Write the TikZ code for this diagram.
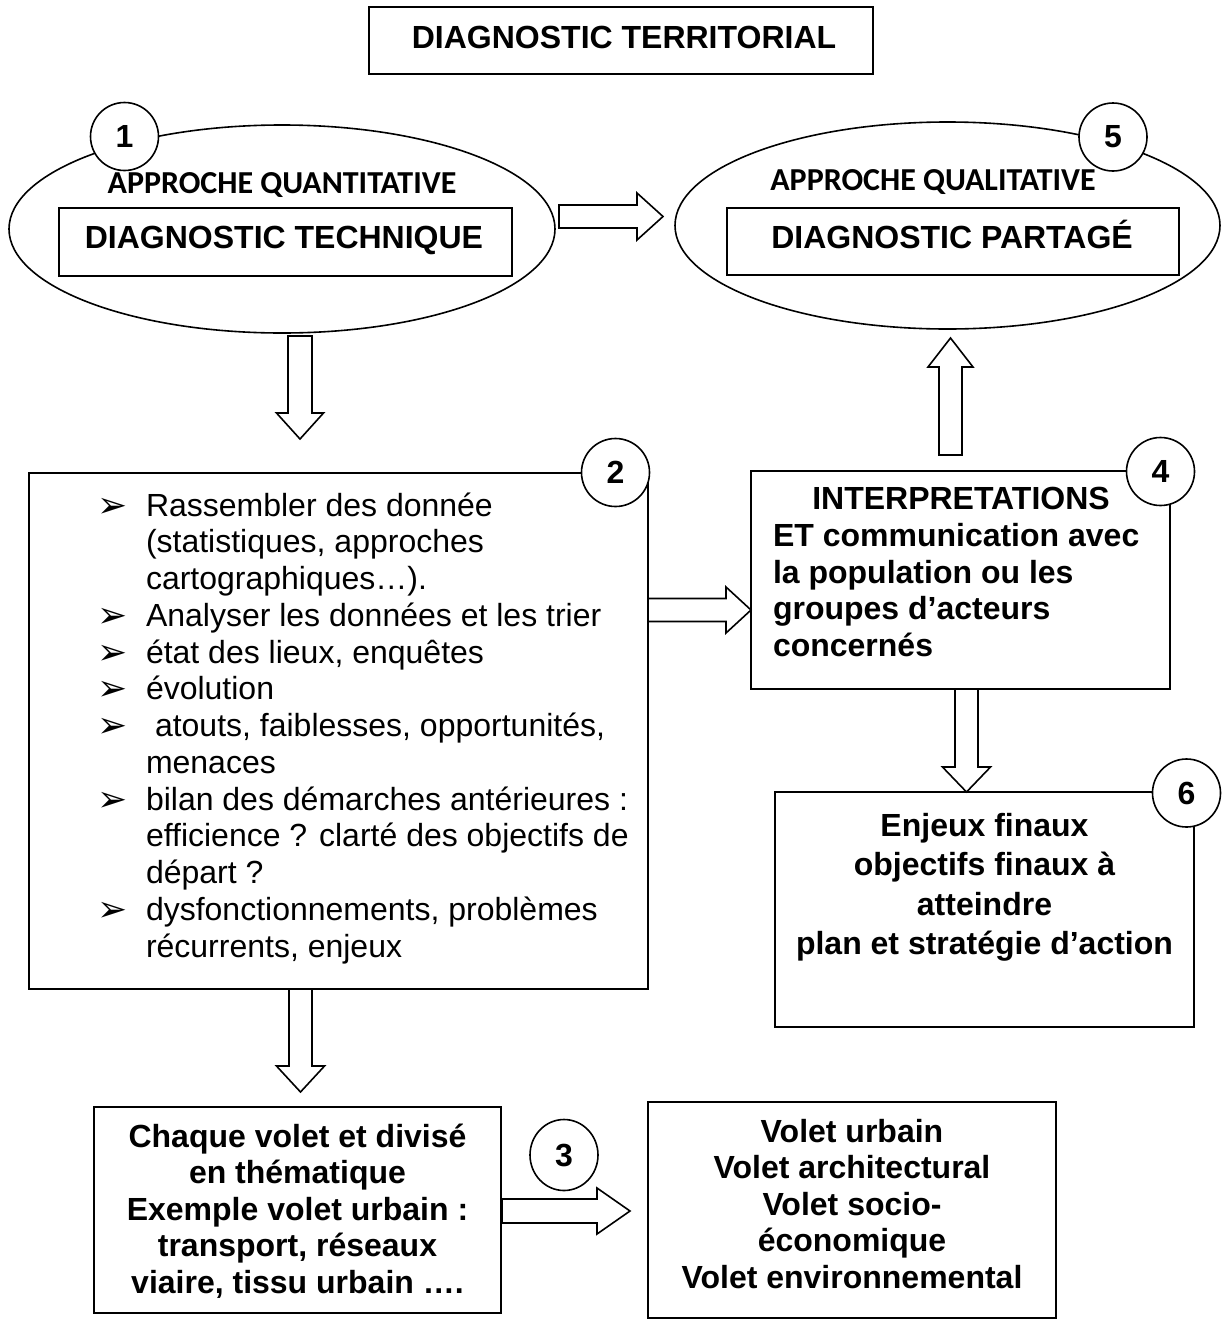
\documentclass[tikz,border=0pt]{standalone}
\usepackage{fontspec}
\setmainfont{Liberation Sans}
\newfontfamily\calfont{Carlito}
\newfontfamily\dingfont{DejaVu Sans}
\usetikzlibrary{shapes.geometric,calc}

% hollow block arrow: #1 tail, #2 tip, #3 half shaft width, #4 half head width, #5 head length
\newcommand\fatarrow[5]{%
  \coordinate (fa-b) at ($(#2)!#5!(#1)$);
  \draw[line, fill=white, line join=miter]
    ($(#1)!#3!90:(#2)$) -- ($(fa-b)!#3!90:(#2)$) -- ($(fa-b)!#4!90:(#2)$) -- (#2)
    -- ($(fa-b)!#4!-90:(#2)$) -- ($(fa-b)!#3!-90:(#2)$) -- ($(#1)!#3!-90:(#2)$) -- cycle;
}

\tikzset{
  every node/.style={inner sep=0pt, outer sep=0pt},
  line/.style={line width=1.6pt, draw=black},
  frame/.style={line, rectangle, fill=white},
  oval/.style={line, ellipse, fill=white},
  badge/.style={line, circle, fill=white, minimum size=68pt,
    font=\fontsize{32}{36}\selectfont\bfseries},
  big/.style={font=\fontsize{32}{36}\selectfont\bfseries},
  plain/.style={font=\fontsize{32}{36}\selectfont},
  capt/.style={font=\calfont\fontsize{32}{36}\selectfont\bfseries},
  bul/.style={font=\dingfont\fontsize{36}{40}\selectfont},
}

\begin{document}
\begin{tikzpicture}[x=1pt, y=-1pt]
\useasboundingbox (0,0) rectangle (1222,1320);

% ---------- title ----------
\node[frame, minimum width=504pt, minimum height=67pt] (title) at (621,40.5) {};
\node[big, anchor=base] (ttl) at (624,48) {DIAGNOSTIC TERRITORIAL};

% ---------- step 1 : technical diagnosis ----------
\node[oval, minimum width=546pt, minimum height=208pt] (e1) at (282,229) {};
\node[capt, anchor=base] (q1) at (282,193) {APPROCHE QUANTITATIVE};
\node[frame, minimum width=453pt, minimum height=68pt] (b1) at (285.5,242) {};
\node[big, anchor=base] (t1) at (284,248) {DIAGNOSTIC TECHNIQUE};
\node[badge] (c1) at (124.5,136.5) {1};

% ---------- step 5 : shared diagnosis ----------
\node[oval, minimum width=545pt, minimum height=207pt] (e5) at (947.5,225.5) {};
\node[capt, anchor=base] (q5) at (933,190) {APPROCHE QUALITATIVE};
\node[frame, minimum width=452pt, minimum height=67pt] (b5) at (953,241.5) {};
\node[big, anchor=base] (t5) at (952,248) {DIAGNOSTIC PARTAGÉ};
\node[badge] (c5) at (1113,137) {5};

% ---------- step 2 : data collection ----------
\node[frame, minimum width=619pt, minimum height=516pt] (box2) at (338.5,731) {};
\node[badge] (c2) at (615.5,472.5) {2};

\node[bul, anchor=base west] (m0) at (97,517) {➢};
\node[plain, anchor=base west] (l0) at (146,516) {Rassembler des donnée};
\node[plain, anchor=base west] (l1) at (146,552.75) {(statistiques, approches};
\node[plain, anchor=base west] (l2) at (146,589.5) {cartographiques…).};
\node[bul, anchor=base west] (m3) at (97,627.25) {➢};
\node[plain, anchor=base west] (l3) at (146,626.25) {Analyser les données et les trier};
\node[bul, anchor=base west] (m4) at (97,664) {➢};
\node[plain, anchor=base west] (l4) at (146,663) {état des lieux, enquêtes};
\node[bul, anchor=base west] (m5) at (97,700.75) {➢};
\node[plain, anchor=base west] (l5) at (146,699.75) {évolution};
\node[bul, anchor=base west] (m6) at (97,737.5) {➢};
\node[plain, anchor=base west] (l6) at (155,736.5) {atouts, faiblesses, opportunités,};
\node[plain, anchor=base west] (l7) at (146,773.25) {menaces};
\node[bul, anchor=base west] (m8) at (97,811) {➢};
\node[plain, anchor=base west] (l8) at (146,810) {bilan des démarches antérieures :};
\node[plain, anchor=base west] (l9) at (146,846.75) {efficience ? clarté des objectifs de};
\node[plain, anchor=base west] (l10) at (146,883.5) {départ ?};
\node[bul, anchor=base west] (m11) at (97,921.25) {➢};
\node[plain, anchor=base west] (l11) at (146,920.25) {dysfonctionnements, problèmes};
\node[plain, anchor=base west] (l12) at (146,957) {récurrents, enjeux};

% ---------- step 4 : interpretation ----------
\node[frame, minimum width=419pt, minimum height=218pt] (box4) at (960.5,580) {};
\node[badge] (c4) at (1160.5,471.5) {4};
\node[big, anchor=base] (i0) at (961,509) {INTERPRETATIONS};
\node[big, anchor=base west] (i1) at (773,546) {ET communication avec};
\node[big, anchor=base west] (i2) at (773,583) {la population ou les};
\node[big, anchor=base west] (i3) at (773,619.5) {groupes d’acteurs};
\node[big, anchor=base west] (i4) at (773,656) {concernés};

% ---------- step 6 : final stakes ----------
\node[frame, minimum width=419pt, minimum height=235pt] (box6) at (984.5,909.5) {};
\node[badge] (c6) at (1186.5,793) {6};
\node[big, anchor=base] (f0) at (984.5,836) {Enjeux finaux};
\node[big, anchor=base] (f1) at (984.5,875.5) {objectifs finaux à};
\node[big, anchor=base] (f2) at (984.5,915) {atteindre};
\node[big, anchor=base] (f3) at (984.5,954.5) {plan et stratégie d’action};

% ---------- themes ----------
\node[frame, minimum width=407pt, minimum height=206pt] (box3a) at (297.5,1210) {};
\node[big, anchor=base] (h0) at (297.5,1147) {Chaque volet et divisé};
\node[big, anchor=base] (h1) at (297.5,1183.5) {en thématique};
\node[big, anchor=base] (h2) at (297.5,1220) {Exemple volet urbain :};
\node[big, anchor=base] (h3) at (297.5,1256.5) {transport, réseaux};
\node[big, anchor=base] (h4) at (297.5,1293) {viaire, tissu urbain ….};

\node[frame, minimum width=408pt, minimum height=216pt] (box3b) at (852,1210) {};
\node[big, anchor=base] (v0) at (852,1142) {Volet urbain};
\node[big, anchor=base] (v1) at (852,1178.5) {Volet architectural};
\node[big, anchor=base] (v2) at (852,1215) {Volet socio-};
\node[big, anchor=base] (v3) at (852,1251.5) {économique};
\node[big, anchor=base] (v4) at (852,1288) {Volet environnemental};

\node[badge, minimum width=68pt, minimum height=71pt, ellipse] (c3) at (564,1155) {3};

% ---------- block arrows ----------
\coordinate (a15s) at (559,216.5);   \coordinate (a15e) at (663,216.5);
\coordinate (a12s) at (300,336);     \coordinate (a12e) at (300,439);
\coordinate (a24s) at (648,610);     \coordinate (a24e) at (751,610);
\coordinate (a45s) at (950.5,455);   \coordinate (a45e) at (950.5,338);
\coordinate (a46s) at (966.5,689);   \coordinate (a46e) at (966.5,792);
\coordinate (a2hs) at (300.5,989);   \coordinate (a2he) at (300.5,1092);
\coordinate (ahvs) at (502,1211);    \coordinate (ahve) at (630,1211);

\fatarrow{a15s}{a15e}{11.5pt}{23.5pt}{26pt}
\fatarrow{a12s}{a12e}{12pt}{23.5pt}{26pt}
\fatarrow{a24s}{a24e}{11.5pt}{23pt}{25pt}
\fatarrow{a45s}{a45e}{11.5pt}{22.5pt}{29pt}
\fatarrow{a46s}{a46e}{11.5pt}{24pt}{25pt}
\fatarrow{a2hs}{a2he}{11.5pt}{24pt}{26pt}
\fatarrow{ahvs}{ahve}{12pt}{23pt}{33pt}

\end{tikzpicture}
\end{document}
